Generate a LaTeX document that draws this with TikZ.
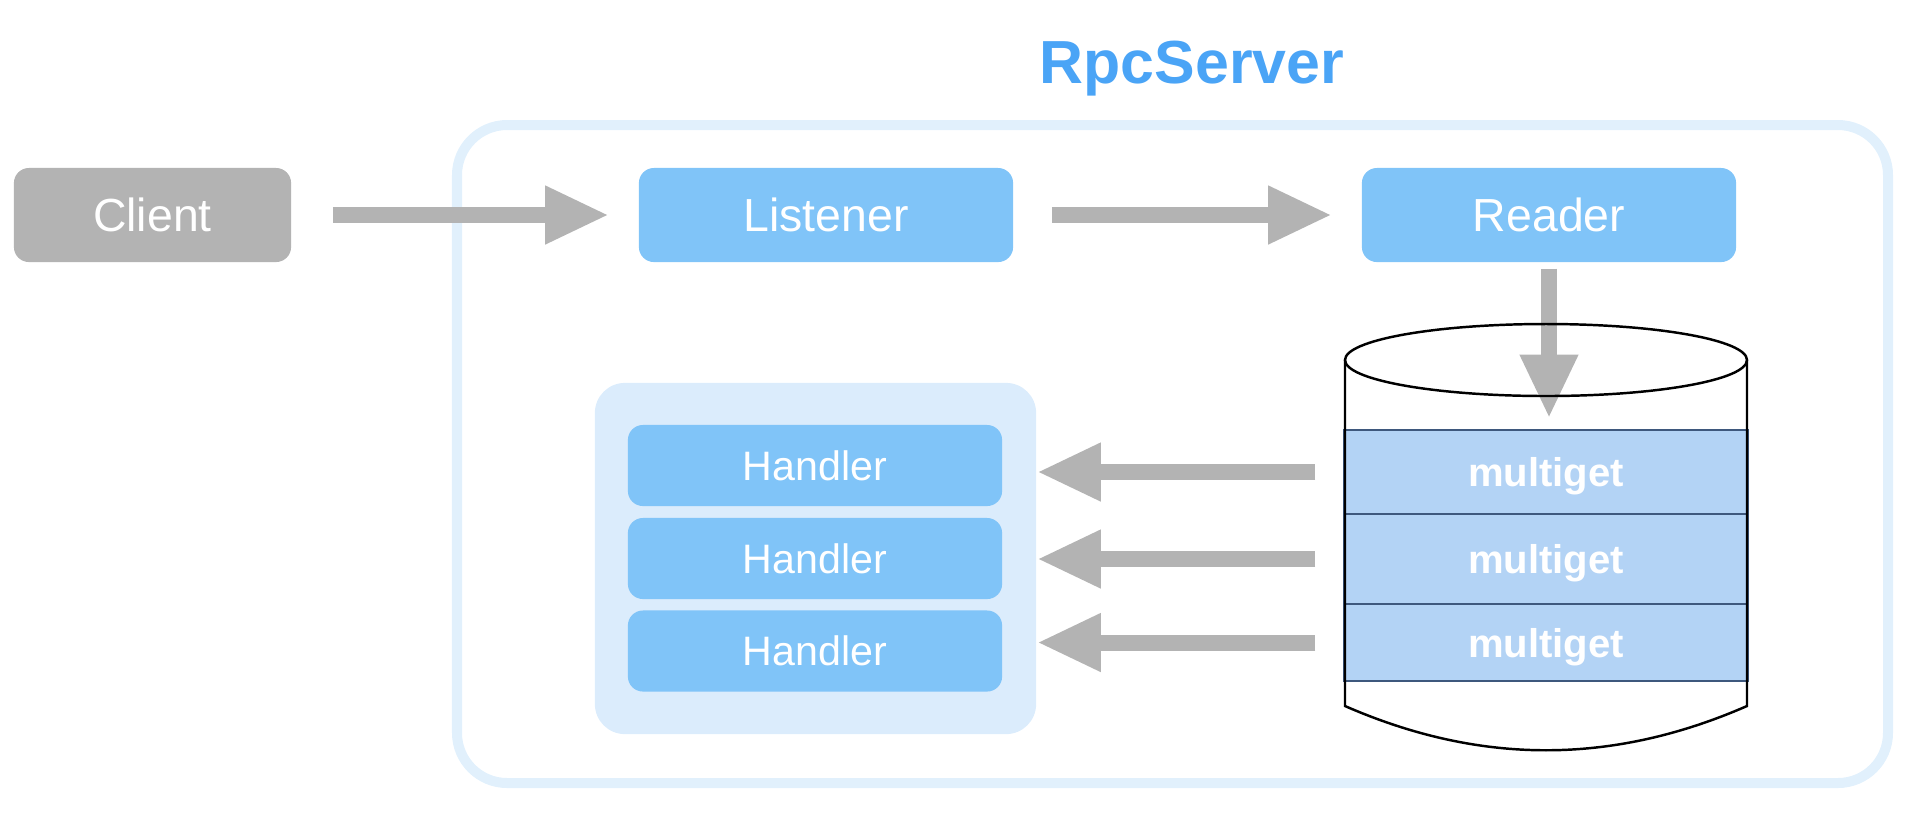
\documentclass[tikz,border=0pt]{standalone}
\usepackage{fontspec}
\setmainfont{Liberation Sans}
\usetikzlibrary{arrows.meta}

\definecolor{boxblue}{RGB}{128,196,248}
\definecolor{groupblue}{RGB}{219,236,252}
\definecolor{frameblue}{RGB}{225,240,252}
\definecolor{rowblue}{RGB}{179,211,245}
\definecolor{rowline}{RGB}{62,88,125}
\definecolor{titleblue}{RGB}{74,164,246}
\definecolor{flowgray}{RGB}{179,179,179}

\tikzset{
    box/.style={rectangle, rounded corners=0.15cm, inner sep=0pt, text=white,
        minimum width=3.74cm, minimum height=0.94cm, font=\fontsize{13.2}{15}\selectfont},
    bluebox/.style={box, fill=boxblue},
    graybox/.style={box, fill=flowgray, minimum width=2.77cm},
    handlerbox/.style={bluebox, minimum height=0.81cm, font=\fontsize{11.7}{14}\selectfont},
    groupbox/.style={rectangle, rounded corners=0.3cm, fill=groupblue,
        minimum width=4.41cm, minimum height=3.51cm},
    rowbox/.style={rectangle, draw=rowline, fill=rowblue, line width=0.8pt, text=white,
        minimum width=4.02cm, inner sep=0pt, text depth=0pt,
        font=\bfseries\fontsize{11.4}{14}\selectfont},
    cylline/.style={black, line width=0.7pt},
    flow/.style={draw=flowgray, line width=0.16cm, -{Triangle[length=0.64cm, width=0.54cm]}}
}

\begin{document}
\begin{tikzpicture}[x=0.01cm, y=-0.01cm]
    \useasboundingbox (0,0) rectangle (1920,832);

    % Server frame and title
    \draw[frameblue, line width=0.1cm, rounded corners=0.5cm] (457,125) rectangle (1888,783);
    \node[anchor=base, text=titleblue, font=\bfseries\fontsize{17.3}{20}\selectfont] (title) at (1192,83) {RpcServer};

    % Top row - Client, Listener, Reader
    \node[graybox] (client) at (152.5,215) {Client};
    \node[bluebox] (listener) at (826,215) {Listener};
    \node[bluebox] (reader) at (1549,215) {Reader};

    % Handler group
    \node[groupbox] (hgroup) at (815.5,558.5) {};
    \foreach \i/\y in {1/465.5, 2/558.5, 3/651}
        \node[handlerbox] (h\i) at (815,\y) {Handler};

    % Queue - three multiget rows in a cylinder
    \foreach \i/\y/\h in {1/472/0.84cm, 2/559/0.9cm, 3/642.5/0.77cm}
        \node[rowbox, minimum height=\h] (m\i) at (1546,\y) {multiget};
    \draw[cylline] (1345,360) -- (1345,706) .. controls (1480,765) and (1612,765) .. (1747,706) -- (1747,360);

    % Arrows
    \draw[flow, shorten <=0.41cm, shorten >=0.29cm] (client) -- (listener);
    \draw[flow, shorten <=0.38cm, shorten >=0.29cm] (listener) -- (reader);
    \draw[flow, shorten <=0.06cm, shorten >=0.1cm] (reader.south) -- (reader.south |- m1.north);
    \foreach \i in {1,2,3}
        \draw[flow, shorten <=0.28cm] (m\i.west) -- (hgroup.east |- m\i.west);

    % Top of the cylinder
    \draw[cylline] (1546,360) ellipse [x radius=201, y radius=36];
\end{tikzpicture}
\end{document}
